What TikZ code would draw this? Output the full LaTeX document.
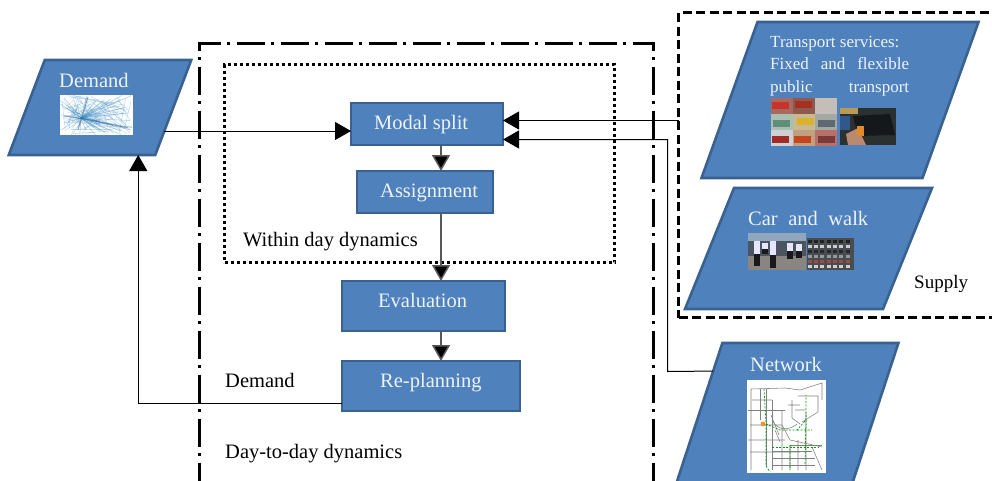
\documentclass[tikz,border=0pt]{standalone}
\usepackage{fontspec}
\setmainfont{Liberation Serif}
\usetikzlibrary{arrows.meta,calc}
\definecolor{boxfill}{HTML}{4F81BD}
\definecolor{boxedge}{HTML}{3A6291}
\definecolor{boxtext}{HTML}{EEF3FA}
\definecolor{demline}{HTML}{3F8FC4}
\definecolor{demdark}{HTML}{2F5F90}
\newcommand\hx[1]{\definecolor{hxc}{HTML}{#1}}
\tikzset{
  flowbox/.style={draw=boxedge,fill=boxfill,line width=2.6pt,minimum width=#1,inner sep=0pt,outer sep=0pt},
  para/.style={draw=boxedge,fill=boxfill,line width=2.6pt,inner sep=0pt,outer sep=0pt,transform shape},
  lab/.style={text=boxtext,font=\fontsize{20.5}{24}\selectfont,inner sep=0pt,anchor=base west},
  plain/.style={text=black,font=\fontsize{20.5}{24}\selectfont,inner sep=0pt,anchor=base west},
  conn/.style={draw=black,line width=1pt,-{Triangle[length=16pt,width=18pt,fill=black]}},
  vconn/.style={draw=black!65,line width=1.5pt,-{Triangle[length=16pt,width=18pt,fill=black]}},
  frame/.style={draw=black,fill=none,inner sep=0pt,outer sep=0pt},
}
\begin{document}
\begin{tikzpicture}[x=1pt,y=-1pt]
\clip (0,0) rectangle (992,480);
\fill[white] (0,0) rectangle (992,480);
% frames
\node[frame,line width=3pt,dash pattern=on 28pt off 6.5pt on 3pt off 6.5pt,minimum width=454pt,minimum height=477pt,anchor=north west] (day) at (199.5,43.5) {};
\node[frame,line width=3pt,dash pattern=on 3pt off 3pt,minimum width=390pt,minimum height=198pt,anchor=north west] (within) at (224.5,64.5) {};
\node[frame,line width=3pt,dash pattern=on 9pt off 4.5pt,minimum width=340pt,minimum height=305pt,anchor=north west] (supply) at (678.5,12.5) {};
% parallelograms
\node[para,xslant=0.379,minimum width=146.5pt,minimum height=95pt] (dem) at (100,107.5) {};
\node[para,xslant=0.359,minimum width=221pt,minimum height=156pt] (ts) at (840,100) {};
\node[para,xslant=0.405,minimum width=198pt,minimum height=121pt] (cw) at (808.5,248.5) {};
\node[para,xslant=0.328,minimum width=176pt,minimum height=167pt] (net) at (783,426.5) {};
% boxes
\node[flowbox=152pt,minimum height=42pt,anchor=north west] (modal) at (351,103) {};
\node[flowbox=136pt,minimum height=42pt,anchor=north west] (assign) at (357,171) {};
\node[flowbox=163pt,minimum height=50pt,anchor=north west] (eval) at (342,281) {};
\node[flowbox=178pt,minimum height=50pt,anchor=north west] (replan) at (342,361) {};
% labels
\node[lab] at (59,87) {Demand};
\node[lab] at (374,129) {Modal split};
\node[lab] at (380,197) {Assignment};
\node[lab] at (378,307) {Evaluation};
\node[lab] at (380,387) {Re-planning};
\node[lab] at (750,371) {Network};
\node[lab,font=\fontsize{17}{22}\selectfont] at (770,47) {Transport services:};
\node[lab,font=\fontsize{17}{22}\selectfont,text width=139pt] at (770,69) {Fixed\hfill and\hfill flexible};
\node[lab,font=\fontsize{17}{22}\selectfont,text width=139pt] at (770,92) {public\hfill transport};
\node[lab,text width=120pt] at (748,225) {Car\hfill and\hfill walk};
\node[plain,font=\fontsize{19}{22}\selectfont] at (914,288) {Supply};
\node[plain] at (243,246) {Within day dynamics};
\node[plain] at (225,387) {Demand};
\node[plain] at (225,458) {Day-to-day dynamics};
% connectors
\path ($(dem.south east)!0.2526!(dem.north east)$) coordinate (demout);
\path ($(dem.south west)!0.884!(dem.south east)$) coordinate (demin);
\path ($(net.north west)!0.168!(net.south west)$) coordinate (netout);
\draw[conn] (demout) -- (demout -| modal.west);
\draw[conn] (replan.west |- 0,403.5) -- (demin |- 0,403.5) -- (demin);
\coordinate (ta) at (supply.west |- 0,120.5);
\coordinate (tb) at (modal.east |- ta);
\draw[conn] (ta) -- (tb);
\coordinate (nb) at (modal.east |- 0,139.5);
\draw[conn] (netout) -- (667.5,371.5) -- (667.5,139.5) -- (nb);
\draw[vconn] (441,145) -- (441,171);
\draw[vconn] (441,213) -- (441,281);
\draw[vconn] (441,331) -- (441,361);
% Demand picture
\fill[white] (60,95) rectangle (133,135);
\begin{scope}
\clip (60,95) rectangle (133,135);
\pgfmathsetseed{7}
\foreach \i in {1,...,70}
  \draw[demline,opacity=.28,line width=.6pt] (60+73*rnd,95+40*rnd) -- (60+73*rnd,95+40*rnd);
\foreach \i in {1,...,45}
  \draw[demline,opacity=.4,line width=.6pt] (81,118) -- (60+73*rnd,95+40*rnd);
\draw[demdark,opacity=.55,line width=1pt] (64,116) -- (100,121) (88,97) -- (78,130) (81,118) -- (128,128);
\end{scope}
% Transport mosaic
\foreach \x/\y/\c in {771/98/A86A60,793/98/8E5A50,815/98/C4BDB8,771/114/A9C0B0,793/114/C9B890,815/114/A3A8A4,771/130/D0D0D4,793/130/C0A080,815/130/B87068}
  {\hx{\c}\fill[hxc] (\x,\y) rectangle +(22,16);}
\foreach \x/\y/\c in {772/102/C8342A,795/101/A83020,773/120/5F8F78,797/118/D9B22E,818/120/5E6A70,772/136/A02C28,794/136/C4461E,818/136/7A3A3A}
  {\hx{\c}\fill[hxc] (\x,\y) rectangle +(17,7);}
\hx{2B3030}\fill[hxc] (840,108) rectangle (896,145);
\hx{15181A}\fill[hxc] (853,116) -- (890,114) -- (895,135) -- (858,136) -- cycle;
\hx{B89A55}\fill[hxc] (840,108) rectangle (858,114);
\hx{30588A}\fill[hxc] (840,116) rectangle (850,130);
\hx{B98A70}\fill[hxc] (846,134) -- (858,128) -- (866,145) -- (848,145) -- cycle;
\hx{E08A2C}\fill[hxc] (857,126) rectangle (864,136);
% Car and walk pictures
\hx{4C5460}\fill[hxc] (748,233) rectangle (806,270);
\hx{8FA6BC}\fill[hxc] (748,233) rectangle (806,241);
\hx{8A8580}\fill[hxc] (748,256) rectangle (806,270);
\foreach \x/\t/\b in {757/241/266,773/241/268,790/243/259,799/244/258,765/243/254}
  {\fill[white!90!blue] (\x-3,\t) rectangle (\x+3,{(\t+\b)/2});
   \fill[black!90] (\x-3,{(\t+\b)/2}) rectangle (\x+3,\b);}
\hx{4A4D4F}\fill[hxc] (807,238) rectangle (854,270);
\foreach \x in {810,816,822,829,835,841,848}
  \foreach \y/\c in {240/1E2022,245/C9CCD0,250/26282B,255/9098A0,260/A04A40,265/D0D0D0}
    {\hx{\c}\fill[hxc] (\x-2,\y) rectangle +(3.6,3.4);}
% Network picture
\fill[white] (747,380) rectangle (826,473);
\begin{scope}[draw=black!50,line width=.55pt]
\draw (751,389) -- (785,388) -- (800,390) -- (822,383) -- (822,400) (751,389) -- (751,470);
\draw (760,389) -- (760,420) (766,389) -- (766,466) (772,400) -- (772,470) (748,410) -- (785,410);
\draw (750,425) -- (782,425) -- (790,440) -- (822,447) (748,440) -- (785,440) (750,452) -- (800,452);
\draw (782,410) -- (782,470) (790,445) -- (790,470) (798,440) -- (798,470) (806,412) -- (806,470) (812,447) -- (822,470);
\draw (790,445) -- (822,445) (772,458) -- (815,458) (772,465) -- (815,465) (772,451) -- (812,451);
\draw (792,400) -- (792,418) -- (800,424) (798,396) -- (818,396) -- (818,412) -- (802,422) (788,405) -- (800,405);
\draw (772,420) .. controls (778,432) and (790,430) .. (797,424);
\draw (771,415) -- (779,435) (775,430) -- (780,442) (752,400) -- (772,400) (795,410) -- (805,410);
\end{scope}
\begin{scope}[draw=green!60!black,line width=.7pt,dash pattern=on 2pt off 1.5pt]
\draw (764,389) -- (766,424) -- (780,430) -- (797,430) -- (806,420) -- (806,395);
\draw (806,420) -- (805,465) (790,445) -- (790,470) (797,430) -- (812,430) (766,424) -- (766,466) -- (770,472);
\draw (772,447) -- (818,447);
\end{scope}
\hx{E8962C}\fill[hxc] (763,424) circle (2.4pt);
\end{tikzpicture}
\end{document}
